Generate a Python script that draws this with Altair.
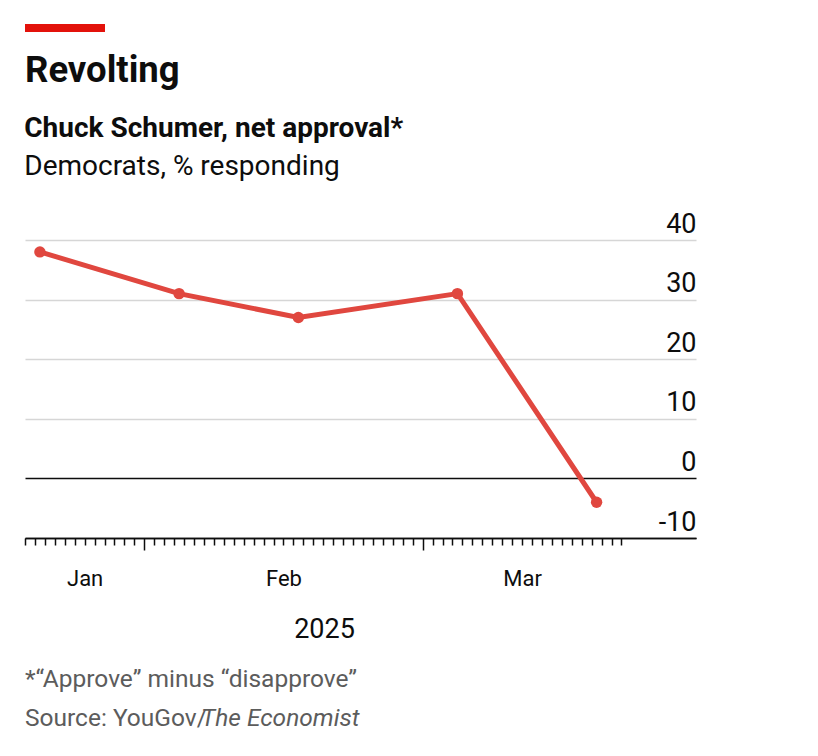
import altair as alt
import pandas as pd

# YouGov/The Economist polls, Democrats' net approval of Chuck Schumer
poll_dates = ["2025-01-22T00:00:00Z", "2025-02-05T00:00:00Z", "2025-02-17T00:00:00Z",
              "2025-03-05T00:00:00Z", "2025-03-19T00:00:00Z"]
net_approval = [38, 31, 27, 31, -4]

y_ticks = [-10, 0, 10, 20, 30, 40]
month_labels = {"2025-01-26": "Jan", "2025-02-15": "Feb", "2025-03-11": "Mar"}

RED = "#E3120B"
LINE = "#E0473F"
INK = "#0d0d0d"
GREY = "#5c5c5c"
FONT = "Roboto"

df = pd.DataFrame({"date": poll_dates, "net": net_approval})

# one small tick per day, a longer one on the first of each month
day_ticks = pd.date_range("2025-01-20 12:00", "2025-03-21 12:00", freq="D")
tick_ms = [int(t.timestamp() * 1000) for t in day_ticks]

label_expr = "''"
for day, name in month_labels.items():
    label_expr = f"utcFormat(datum.value, '%Y-%m-%d') == '{day}' ? '{name}' : " + label_expr

x = alt.X(
    "date:T",
    title="2025",
    scale=alt.Scale(
        type="utc",
        domain=[alt.DateTime(year=2025, month=1, date=20, hours=12, utc=True),
                alt.DateTime(year=2025, month=3, date=29, utc=True)],
    ),
    axis=alt.Axis(
        values=tick_ms,
        labelExpr=label_expr,
        labelOverlap=False,
        labelFlush=False,
        grid=False,
        tickSize={"condition": {"test": "utcdate(datum.value) == 1", "value": 12}, "value": 7},
        tickColor=INK,
        tickWidth=1.5,
        domainColor=INK,
        domainWidth=1.5,
        labelFont=FONT,
        labelFontSize=22,
        labelColor=INK,
        labelPadding=23,
        titleFont=FONT,
        titleFontSize=27,
        titleFontWeight="normal",
        titleColor=INK,
        titleX=299,
        titlePadding=22,
    ),
)

y = alt.Y(
    "net:Q",
    title=None,
    scale=alt.Scale(domain=[-10, 40]),
    axis=alt.Axis(
        orient="right",
        values=y_ticks,
        labelExpr="datum.value + ''",
        domain=False,
        ticks=False,
        tickSize=0,
        labelAlign="right",
        labelBaseline="alphabetic",
        labelPadding=0,
        labelOffset=-8,
        labelFont=FONT,
        labelFontSize=27,
        labelColor=INK,
        grid=True,
        gridColor={"condition": {"test": "datum.value <= 0", "value": INK}, "value": "#d6d6d6"},
        gridWidth=1.5,
    ),
)

base = alt.Chart(df).encode(x=x, y=y)
line = base.mark_line(color=LINE, strokeWidth=5)
dots = base.mark_circle(color=LINE, size=130, opacity=1)

main = (line + dots).properties(
    width=671,
    height=298,
    title=alt.TitleParams(
        "Chuck Schumer, net approval*",
        subtitle=["Democrats, % responding"],
        anchor="start",
        font=FONT,
        fontSize=28,
        fontWeight="bold",
        color=INK,
        subtitleFont=FONT,
        subtitleFontSize=28,
        subtitleColor=INK,
        subtitlePadding=10,
        offset=29,
    ),
)

one = pd.DataFrame({"k": [0]})

bar = alt.Chart(one).mark_rect(color=RED).encode(
    x=alt.value(0), x2=alt.value(80), y=alt.value(0), y2=alt.value(8)
).properties(
    width=80,
    height=8,
    title=alt.TitleParams(
        "Revolting", orient="bottom", anchor="start", font=FONT,
        fontSize=36.5, fontWeight="bold", color=INK, offset=21,
    ),
)

# footnote and source, with the publication name in italics
note_style = dict(align="left", baseline="alphabetic", font=FONT, fontSize=24.5, color=GREY)
note = alt.Chart(one).mark_text(text="*\u201cApprove\u201d minus \u201cdisapprove\u201d", **note_style).encode(
    x=alt.value(0), y=alt.value(15)
)
source = alt.Chart(one).mark_text(text="Source: YouGov/", **note_style).encode(
    x=alt.value(0), y=alt.value(54)
)
source_pub = alt.Chart(one).mark_text(text="The Economist", fontStyle="italic", **note_style).encode(
    x=alt.value(176), y=alt.value(54)
)
footer = (note + source + source_pub).properties(width=400, height=62)

chart = alt.vconcat(bar, main, footer, spacing=25).configure(
    padding={"left": 16, "top": 16, "right": 16, "bottom": 8},
).configure_concat(spacing=25).configure_view(stroke=None)

chart.save("out.html", embed_options={"renderer": "svg", "actions": False})
